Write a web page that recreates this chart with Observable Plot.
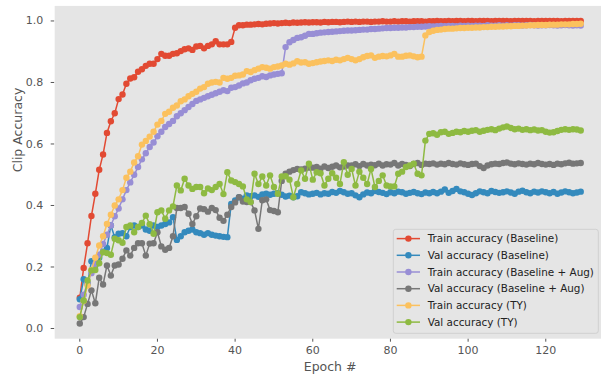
<!DOCTYPE html>
<html><head><meta charset="utf-8">
<script src="https://cdn.jsdelivr.net/npm/d3@7"></script>
<script src="https://cdn.jsdelivr.net/npm/@observablehq/plot@0.6"></script>
<style>
body{margin:0;background:#fff;}
#chart{position:relative;width:601px;height:376px;overflow:hidden;}
</style>
</head><body><div id="chart"></div>
<script>
const seriesNames = ["Train accuracy (Baseline)","Val accuracy (Baseline)","Train accuracy (Baseline + Aug)","Val accuracy (Baseline + Aug)","Train accuracy (TY)","Val accuracy (TY)"];
const seriesColors = ["#E24A33","#348ABD","#988ED5","#777777","#FBC15E","#8EBA42"];
const xTicks = [0,20,40,60,80,100,120];
const yTicks = [0,0.2,0.4,0.6,0.8,1.0];

const trainBaseline = [0.100,0.197,0.277,0.366,0.438,0.516,0.566,0.636,0.674,0.700,
0.746,0.761,0.796,0.813,0.817,0.835,0.843,0.854,0.861,0.861,
0.876,0.893,0.887,0.887,0.893,0.895,0.902,0.908,0.911,0.906,
0.917,0.919,0.911,0.919,0.924,0.934,0.924,0.924,0.924,0.932,
0.978,0.986,0.986,0.988,0.988,0.989,0.990,0.989,0.991,0.992,
0.993,0.992,0.993,0.994,0.993,0.995,0.994,0.995,0.996,0.995,
0.996,0.996,0.995,0.997,0.996,0.997,0.997,0.996,0.997,0.998,
0.997,0.998,0.997,0.998,0.998,0.997,0.998,0.998,0.999,0.998,
0.998,0.999,0.998,0.999,0.999,0.998,0.999,0.999,0.999,0.998,
0.999,0.999,1.000,0.999,0.999,1.000,0.999,1.000,1.000,0.999,
1.000,1.000,0.999,1.000,1.000,1.000,0.999,1.000,1.000,1.000,
1.000,0.999,1.000,1.000,1.000,1.000,1.000,0.999,1.000,1.000,
1.000,1.000,1.000,1.000,0.999,1.000,1.000,1.000,1.000,1.000];

const valBaseline = [0.095,0.160,0.145,0.219,0.205,0.230,0.250,0.262,0.335,0.297,
0.308,0.310,0.300,0.330,0.335,0.330,0.335,0.322,0.318,0.335,
0.330,0.335,0.340,0.345,0.362,0.288,0.300,0.313,0.318,0.322,
0.313,0.310,0.305,0.310,0.305,0.302,0.300,0.298,0.297,0.405,
0.416,0.427,0.422,0.433,0.430,0.433,0.428,0.436,0.438,0.435,
0.438,0.440,0.435,0.429,0.432,0.427,0.430,0.443,0.440,0.436,
0.438,0.441,0.436,0.440,0.438,0.444,0.441,0.447,0.443,0.438,
0.440,0.433,0.427,0.436,0.442,0.440,0.447,0.444,0.441,0.437,
0.443,0.440,0.445,0.443,0.438,0.441,0.444,0.440,0.437,0.442,
0.440,0.444,0.440,0.445,0.452,0.441,0.447,0.454,0.446,0.443,
0.438,0.434,0.440,0.446,0.443,0.440,0.447,0.444,0.441,0.443,
0.446,0.442,0.438,0.445,0.448,0.443,0.440,0.445,0.442,0.446,
0.443,0.440,0.444,0.438,0.442,0.446,0.443,0.440,0.442,0.445];

const trainAug = [0.070,0.110,0.150,0.180,0.210,0.240,0.275,0.305,0.335,0.365,
0.390,0.420,0.450,0.475,0.500,0.525,0.550,0.570,0.590,0.605,
0.625,0.640,0.655,0.665,0.675,0.690,0.700,0.710,0.720,0.730,
0.740,0.745,0.750,0.755,0.760,0.765,0.770,0.775,0.772,0.783,
0.785,0.790,0.797,0.800,0.807,0.812,0.815,0.820,0.818,0.823,
0.826,0.828,0.830,0.915,0.931,0.938,0.945,0.947,0.952,0.958,
0.958,0.960,0.962,0.963,0.964,0.965,0.966,0.967,0.968,0.969,
0.969,0.970,0.971,0.972,0.972,0.974,0.974,0.975,0.976,0.977,
0.977,0.978,0.978,0.979,0.979,0.980,0.980,0.981,0.981,0.982,
0.983,0.982,0.983,0.984,0.983,0.984,0.984,0.983,0.985,0.984,
0.985,0.984,0.985,0.985,0.984,0.986,0.985,0.985,0.986,0.985,
0.986,0.985,0.986,0.986,0.985,0.986,0.987,0.986,0.985,0.986,
0.986,0.987,0.986,0.985,0.986,0.987,0.986,0.985,0.986,0.985];

const valAug = [0.016,0.037,0.080,0.124,0.082,0.165,0.143,0.205,0.172,0.205,
0.208,0.227,0.254,0.237,0.262,0.277,0.277,0.237,0.276,0.277,
0.313,0.267,0.256,0.262,0.300,0.392,0.392,0.395,0.373,0.340,
0.365,0.390,0.388,0.380,0.392,0.385,0.360,0.350,0.370,0.395,
0.410,0.427,0.413,0.411,0.411,0.384,0.324,0.417,0.420,0.385,
0.382,0.378,0.480,0.503,0.510,0.515,0.519,0.517,0.520,0.523,
0.523,0.525,0.520,0.527,0.522,0.526,0.530,0.524,0.527,0.530,
0.530,0.534,0.528,0.535,0.530,0.533,0.531,0.536,0.530,0.534,
0.533,0.538,0.530,0.535,0.532,0.528,0.535,0.538,0.532,0.536,
0.535,0.537,0.533,0.536,0.534,0.538,0.535,0.533,0.537,0.534,
0.532,0.535,0.536,0.528,0.522,0.530,0.534,0.536,0.535,0.538,
0.540,0.536,0.534,0.537,0.535,0.533,0.536,0.534,0.538,0.535,
0.533,0.535,0.532,0.536,0.534,0.537,0.539,0.536,0.537,0.538];

const trainTY = [0.040,0.090,0.140,0.190,0.230,0.270,0.300,0.340,0.370,0.400,
0.420,0.450,0.490,0.510,0.540,0.560,0.598,0.610,0.624,0.640,
0.663,0.675,0.698,0.705,0.718,0.725,0.739,0.745,0.755,0.763,
0.770,0.780,0.785,0.796,0.800,0.802,0.800,0.815,0.812,0.815,
0.822,0.823,0.826,0.837,0.834,0.840,0.845,0.850,0.848,0.845,
0.850,0.852,0.855,0.861,0.858,0.862,0.869,0.865,0.866,0.861,
0.863,0.866,0.868,0.870,0.872,0.870,0.874,0.872,0.876,0.880,
0.876,0.872,0.876,0.882,0.886,0.888,0.880,0.884,0.886,0.885,
0.888,0.893,0.884,0.884,0.887,0.888,0.885,0.882,0.884,0.953,
0.964,0.968,0.971,0.972,0.974,0.975,0.975,0.976,0.977,0.977,
0.978,0.978,0.979,0.979,0.980,0.980,0.981,0.981,0.982,0.982,
0.983,0.983,0.984,0.984,0.985,0.985,0.986,0.986,0.987,0.987,
0.987,0.988,0.988,0.988,0.989,0.989,0.989,0.990,0.990,0.991];

const valTY = [0.037,0.091,0.156,0.189,0.190,0.212,0.248,0.245,0.240,0.292,
0.287,0.279,0.330,0.335,0.313,0.330,0.343,0.367,0.339,0.308,
0.378,0.384,0.357,0.384,0.397,0.465,0.449,0.487,0.465,0.454,
0.460,0.460,0.440,0.455,0.450,0.460,0.470,0.437,0.508,0.481,
0.476,0.470,0.462,0.420,0.411,0.503,0.470,0.494,0.465,0.498,
0.460,0.438,0.494,0.495,0.484,0.427,0.470,0.514,0.487,0.536,
0.484,0.508,0.505,0.465,0.487,0.505,0.490,0.470,0.541,0.500,
0.519,0.465,0.510,0.490,0.470,0.519,0.460,0.480,0.498,0.465,
0.462,0.462,0.503,0.510,0.525,0.530,0.536,0.503,0.498,0.611,
0.633,0.635,0.630,0.638,0.640,0.633,0.636,0.640,0.638,0.642,
0.640,0.643,0.645,0.640,0.643,0.646,0.648,0.645,0.650,0.654,
0.657,0.652,0.648,0.650,0.646,0.648,0.645,0.647,0.644,0.645,
0.640,0.637,0.638,0.642,0.646,0.648,0.646,0.648,0.647,0.644];

const allSeries = [trainBaseline, valBaseline, trainAug, valAug, trainTY, valTY];
const tables = allSeries.map((vals, s) => vals.map((v, i) => ({epoch: i, acc: v, series: seriesNames[s]})));

const marks = [Plot.frame({fill: "#E5E5E5", stroke: "none"})];
tables.forEach((t, s) => {
  marks.push(Plot.line(t, {x: "epoch", y: "acc", stroke: seriesColors[s], strokeWidth: 1.5}));
  marks.push(Plot.dot(t, {x: "epoch", y: "acc", r: 3.2, fill: seriesColors[s], stroke: "none"}));
});
marks.push(Plot.text(["Epoch #"], {frameAnchor: "bottom", dy: 28, dx: 2, fontSize: 12.5, lineAnchor: "middle", text: d => d}));
marks.push(Plot.text(["Clip Accuracy"], {frameAnchor: "left", dx: -37, rotate: -90, fontSize: 12.5, text: d => d}));

const chart = Plot.plot({
  width: 601, height: 376,
  marginLeft: 54.2, marginRight: 0, marginTop: 5.4, marginBottom: 37.8,
  style: {fontFamily: "DejaVu Sans, sans-serif", fontSize: "11px", color: "#555555", background: "#ffffff", overflow: "visible"},
  x: {domain: [-6.46, 134.35], ticks: xTicks, tickSize: 3.5, tickPadding: 4, label: null},
  y: {domain: [-0.0332, 1.049], ticks: yTicks, tickFormat: d => d.toFixed(1), tickSize: 3.5, tickPadding: 8, label: null},
  marks
});
document.getElementById("chart").appendChild(chart);

// legend
const svg = d3.select(chart);
const lg = svg.append("g").attr("font-family", "DejaVu Sans, sans-serif").attr("font-size", 10.4).attr("text-anchor", "start");
lg.append("rect").attr("x", 393.3).attr("y", 229.3).attr("width", 205).attr("height", 104).attr("rx", 2.5)
  .attr("fill", "#E5E5E5").attr("fill-opacity", 0.8).attr("stroke", "#d0d0d0").attr("stroke-width", 1);
seriesNames.forEach((name, i) => {
  const cy = 238.6 + i * 16.7;
  lg.append("line").attr("x1", 396.7).attr("x2", 420).attr("y1", cy).attr("y2", cy)
    .attr("stroke", seriesColors[i]).attr("stroke-width", 1.5);
  lg.append("circle").attr("cx", 408.4).attr("cy", cy).attr("r", 3.2).attr("fill", seriesColors[i]);
  lg.append("text").attr("x", 427.7).attr("y", cy).attr("dy", "0.35em").attr("text-anchor", "start").attr("fill", "#222").text(name);
});
</script>
</body></html>
